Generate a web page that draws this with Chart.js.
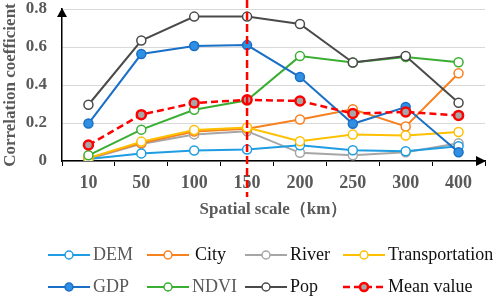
<!DOCTYPE html>
<html>
<head>
<meta charset="utf-8">
<script src="https://cdn.jsdelivr.net/npm/chart.js@4.4.1/dist/chart.umd.min.js"></script>
<style>
  html, body { margin: 0; padding: 0; background: #fff; }
  #wrap { width: 498px; height: 298px; }
</style>
</head>
<body>
<div id="wrap"><canvas id="chart"></canvas></div>
<script>
// Data block
const scales = ['10', '50', '100', '150', '200', '250', '300', '400'];
const dem = [0.01, 0.04, 0.055, 0.06, 0.083, 0.057, 0.051, 0.078];
const city = [0.015, 0.095, 0.155, 0.17, 0.218, 0.272, 0.182, 0.462];
const river = [0.01, 0.09, 0.14, 0.157, 0.043, 0.03, 0.046, 0.093];
const transportation = [0.015, 0.102, 0.163, 0.176, 0.104, 0.139, 0.134, 0.153];
const gdp = [0.197, 0.563, 0.605, 0.61, 0.442, 0.196, 0.284, 0.046];
const ndvi = [0.03, 0.165, 0.27, 0.32, 0.552, 0.518, 0.547, 0.52];
const pop = [0.296, 0.634, 0.76, 0.76, 0.721, 0.518, 0.553, 0.307];
const meanValue = [0.084, 0.244, 0.305, 0.322, 0.316, 0.25, 0.258, 0.24];
const yTicks = [0, 0.2, 0.4, 0.6, 0.8];
const markedScale = '150';

const grey = '#595959';
const serif = '"Liberation Serif", "Times New Roman", serif';

function series(label, data, color, opts) {
    return Object.assign({
        label: label,
        data: data,
        borderColor: color,
        backgroundColor: '#ffffff',
        pointBorderColor: color,
        pointBackgroundColor: '#ffffff',
        borderWidth: 2,
        pointRadius: 4.5,
        pointBorderWidth: 1.5,
        pointHoverRadius: 4.5,
        fill: false,
        tension: 0
    }, opts || {});
}

const datasets = [
    series('DEM', dem, '#1e9de2', { order: 8, textColor: grey }),
    series('City', city, '#f7801f', { order: 7, textColor: '#111', textGap: 3 }),
    series('River', river, '#a6a6a6', { order: 9, textColor: '#111' }),
    series('Transportation', transportation, '#ffc000', { order: 6, textColor: '#111' }),
    series('GDP', gdp, '#1a6fc6', { order: 4, pointBackgroundColor: '#2f8fe2', textColor: grey }),
    series('NDVI', ndvi, '#3aae32', { order: 5, textColor: grey }),
    series('Pop', pop, '#4a4a4a', { order: 3, textColor: '#111' }),
    series('Mean value', meanValue, '#ff0000', {
        order: 1, borderWidth: 2.5, borderDash: [7, 4], pointBorderWidth: 2.5,
        pointRadius: 4.5, pointBackgroundColor: '#a6a6a6', textColor: '#111'
    })
];

// arrows on the axes, the marked scale line and a two-row legend
const extras = {
    id: 'extras',
    afterDatasetsDraw(chart) {
        const ctx = chart.ctx;
        const area = chart.chartArea;
        const x = chart.scales.x;
        ctx.save();
        // dashed marker line
        const mx = x.getPixelForValue(scales.indexOf(markedScale));
        ctx.strokeStyle = '#ff0000';
        ctx.lineWidth = 2.5;
        ctx.setLineDash([8, 4]);
        ctx.beginPath();
        ctx.moveTo(mx, 0);
        ctx.lineTo(mx, 197);
        ctx.stroke();
        ctx.setLineDash([]);
        // arrows
        ctx.fillStyle = '#000';
        ctx.beginPath();
        ctx.moveTo(area.left, area.top - 1);
        ctx.lineTo(area.left - 5, area.top + 8);
        ctx.lineTo(area.left + 5, area.top + 8);
        ctx.closePath();
        ctx.fill();
        ctx.beginPath();
        ctx.moveTo(area.right + 1, area.bottom);
        ctx.lineTo(area.right - 9, area.bottom - 5);
        ctx.lineTo(area.right - 9, area.bottom + 5);
        ctx.closePath();
        ctx.fill();
        // legend
        const cols = [48, 147, 245, 343];
        const rows = [255, 287];
        ctx.font = '18px ' + serif;
        ctx.textBaseline = 'middle';
        chart.data.datasets.forEach(function (ds, i) {
            const lx = cols[i % 4];
            const ly = rows[Math.floor(i / 4)];
            ctx.strokeStyle = ds.borderColor;
            ctx.lineWidth = ds.borderWidth;
            ctx.setLineDash(ds.borderDash || []);
            ctx.beginPath();
            ctx.moveTo(lx, ly);
            ctx.lineTo(lx + 42, ly);
            ctx.stroke();
            ctx.setLineDash([]);
            ctx.beginPath();
            ctx.arc(lx + 21, ly, 4, 0, Math.PI * 2);
            ctx.fillStyle = ds.pointBackgroundColor;
            ctx.fill();
            ctx.lineWidth = ds.pointBorderWidth;
            ctx.strokeStyle = ds.pointBorderColor;
            ctx.stroke();
            ctx.fillStyle = ds.textColor;
            ctx.fillText(ds.label, lx + 45 + (ds.textGap || 0), ly);
        });
        ctx.restore();
    }
};

const config = {
    type: 'line',
    data: { labels: scales, datasets: datasets },
    options: {
        responsive: true,
        maintainAspectRatio: false,
        animation: false,
        layout: { padding: { top: 9, right: 13, bottom: 78, left: 0 } },
        plugins: {
            legend: { display: false },
            tooltip: { enabled: false }
        },
        scales: {
            x: {
                offset: true,
                grid: {
                    drawOnChartArea: false, drawTicks: true, tickLength: 5,
                    color: '#000', offset: true
                },
                border: { color: '#000', width: 1.5 },
                ticks: {
                    color: grey, padding: 7,
                    font: { family: serif, size: 18, weight: 'bold' }
                },
                title: {
                    display: true, text: 'Spatial scale（km）', color: grey,
                    padding: { top: 0, bottom: 0 },
                    font: { family: serif, size: 17, weight: 'bold' }
                },
                afterFit(axis) {
                    axis.height = 59;
                    axis.paddingLeft = 0;
                    axis.paddingRight = 0;
                }
            },
            y: {
                min: yTicks[0],
                max: yTicks[yTicks.length - 1],
                afterBuildTicks(axis) {
                    axis.ticks = yTicks.map(function (v) { return { value: v }; });
                },
                grid: { color: '#d9d9d9', lineWidth: 1, drawTicks: false },
                border: { color: '#000', width: 1.5 },
                ticks: {
                    color: grey, padding: 15,
                    font: { family: serif, size: 17, weight: 'bold' }
                },
                title: {
                    display: true, text: 'Correlation coefficient', color: grey,
                    padding: { top: 0, bottom: 0 },
                    font: { family: serif, size: 17, weight: 'bold' }
                },
                afterFit(axis) {
                    axis.width = 62;
                    axis.paddingTop = 0;
                    axis.paddingBottom = 0;
                }
            }
        }
    },
    plugins: [extras]
};

const chart = new Chart(document.getElementById('chart'), config);
</script>
</body>
</html>
